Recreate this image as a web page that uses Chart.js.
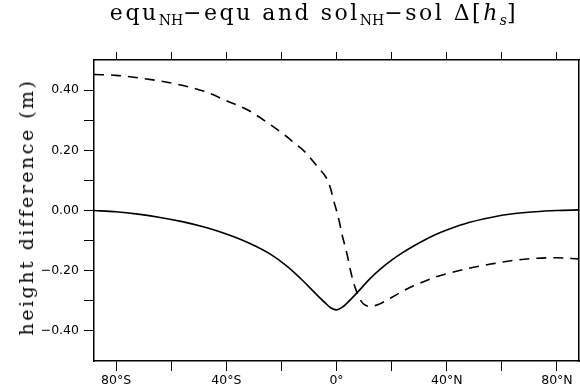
<!doctype html>
<html>
<head>
<meta charset="utf-8" />
<title>equNH-equ and solNH-sol</title>
<script src="https://cdn.jsdelivr.net/npm/chart.js"></script>
<style>
  html,body{margin:0;padding:0;background:#fff}
  #wrap{position:relative;width:580px;height:392px}
  #title{position:absolute;left:0;top:0;width:628px;text-align:center;
    font-family:"DejaVu Serif",serif;font-size:22px;letter-spacing:2.5px;color:#000;white-space:nowrap}
  #title sub{font-size:14px;letter-spacing:0;vertical-align:-5px;line-height:0}
  #ylabel{position:absolute;left:26px;top:207px;transform:translate(-50%,-50%) rotate(-90deg);
    font-family:"DejaVu Serif",serif;font-size:19px;letter-spacing:2.5px;color:#000;white-space:nowrap}
</style>
</head>
<body>
<div id="wrap">
  <canvas id="chart" width="580" height="392"></canvas>
  <div id="title">equ<sub>NH</sub>−equ and sol<sub>NH</sub>−sol Δ[<i>h</i><sub><i>s</i></sub>]</div>
  <div id="ylabel">height difference (m)</div>
</div>
<script>
// latitude in degrees (negative = south)
const latSolid = [-88, -80, -72, -64, -56, -48, -40, -32, -24, -18, -12, -8, -4, -2, 0,
  2, 4, 8, 12, 16, 20, 24, 28, 32, 36, 40, 48, 56, 64, 72, 80, 88];
// equ_NH - equ (m)
const solidVals = [0.000, -0.004, -0.012, -0.023, -0.037, -0.055, -0.078, -0.107, -0.145,
  -0.185, -0.235, -0.272, -0.308, -0.324, -0.330, -0.322, -0.306, -0.268, -0.228, -0.194,
  -0.165, -0.140, -0.118, -0.098, -0.080, -0.065, -0.040, -0.023, -0.011, -0.004, 0.000, 0.002];

const latDashed = [-88, -80, -72, -64, -56, -48, -40, -32, -24, -18, -15, -12, -10, -8, -6,
  -4, -3, -2, -1, 0, 1, 2, 3, 4, 5, 6, 7, 8, 9, 10, 12, 14, 16, 20, 24, 28, 32, 36, 40,
  48, 56, 64, 72, 80, 88];
// sol_NH - sol (m)
const dashedVals = [0.452, 0.449, 0.441, 0.430, 0.416, 0.396, 0.365, 0.333, 0.285, 0.245,
  0.222, 0.200, 0.180, 0.158, 0.136, 0.113, 0.095, 0.068, 0.032, 0.000, -0.036, -0.080,
  -0.115, -0.152, -0.196, -0.234, -0.262, -0.285, -0.302, -0.312, -0.319, -0.316, -0.309,
  -0.289, -0.268, -0.250, -0.235, -0.221, -0.210, -0.192, -0.178, -0.166, -0.159, -0.157,
  -0.161];

const xTickVals = [-80, -60, -40, -20, 0, 20, 40, 60, 80];
const yTickVals = [-0.4, -0.3, -0.2, -0.1, 0, 0.1, 0.2, 0.3, 0.4];
const xLabels = { '-80': '80°S', '-40': '40°S', '0': '0°', '40': '40°N', '80': '80°N' };
const yLabels = { '0.4': '0.40', '0.2': '0.20', '0': '0.00', '-0.2': '−0.20', '-0.4': '−0.40' };

const pts = (xs, ys) => xs.map((x, i) => ({ x, y: ys[i] }));

const tickGrid = { drawOnChartArea: false, drawTicks: true, tickLength: 10, color: '#000', lineWidth: 1 };
const border = { display: true, color: '#000', width: 1.5 };
const tickFont = { family: '"DejaVu Sans", Arial, sans-serif', size: 12.5 };

new Chart(document.getElementById('chart').getContext('2d'), {
  type: 'line',
  data: {
    datasets: [
      { data: pts(latSolid, solidVals), borderColor: '#000', borderWidth: 1.6,
        pointRadius: 0, cubicInterpolationMode: 'monotone', fill: false },
      { data: pts(latDashed, dashedVals), borderColor: '#000', borderWidth: 1.6,
        borderDash: [10, 7], pointRadius: 0, cubicInterpolationMode: 'monotone', fill: false }
    ]
  },
  options: {
    responsive: false,
    animation: false,
    events: [],
    layout: { padding: { top: 52, right: 1, left: 0, bottom: 0 } },
    plugins: { legend: { display: false }, tooltip: { enabled: false } },
    scales: {
      x: {
        type: 'linear', min: -88, max: 88,
        border, grid: tickGrid,
        afterBuildTicks: (s) => { s.ticks = xTickVals.map(v => ({ value: v })); },
        ticks: { color: '#000', font: tickFont, maxRotation: 0, padding: 2,
          callback: (v) => xLabels[String(v)] || '' },
        afterFit: (s) => { s.height = 31; }
      },
      xTop: {
        type: 'linear', position: 'top', min: -88, max: 88,
        border, grid: Object.assign({}, tickGrid, { tickLength: 8 }),
        afterBuildTicks: (s) => { s.ticks = xTickVals.map(v => ({ value: v })); },
        ticks: { display: false },
        afterFit: (s) => { s.height = 8; }
      },
      y: {
        min: -0.5, max: 0.5,
        border, grid: tickGrid,
        afterBuildTicks: (s) => { s.ticks = yTickVals.map(v => ({ value: v })); },
        ticks: { color: '#000', font: tickFont, padding: 5,
          callback: (v) => yLabels[String(Math.round(v * 10) / 10)] || '' },
        afterFit: (s) => { s.width = 94; }
      },
      yRight: {
        position: 'right', min: -0.5, max: 0.5,
        border, grid: { display: false },
        ticks: { display: false },
        afterFit: (s) => { s.width = 0; }
      }
    }
  }
});
</script>
</body>
</html>
